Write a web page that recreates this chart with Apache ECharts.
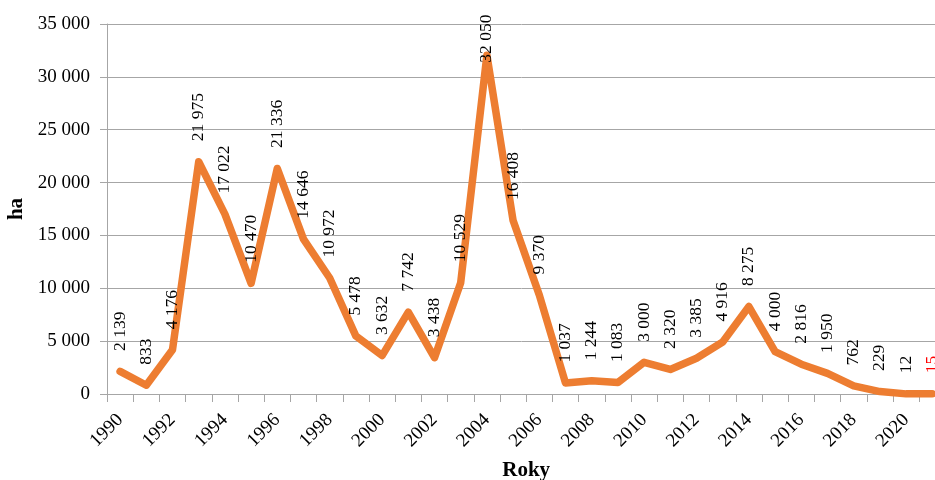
<!DOCTYPE html>
<html>
<head>
<meta charset="utf-8">
<script src="https://cdn.jsdelivr.net/npm/echarts@6/dist/echarts.min.js"></script>
<style>html,body{margin:0;padding:0;background:#fff}#c{width:935px;height:480px}</style>
</head>
<body>
<div id="c"></div>
<script>
var years = [1990,1991,1992,1993,1994,1995,1996,1997,1998,1999,2000,2001,2002,2003,2004,2005,2006,2007,2008,2009,2010,2011,2012,2013,2014,2015,2016,2017,2018,2019,2020,2021];
var areaHa = [2139,833,4176,21975,17022,10470,21336,14646,10972,5478,3632,7742,3438,10529,32050,16408,9370,1037,1244,1083,3000,2320,3385,4916,8275,4000,2816,1950,762,229,12,15];
var yTicks = [0,5000,10000,15000,20000,25000,30000,35000];

function fmt(v){ return String(v).replace(/\B(?=(\d{3})+(?!\d))/g, ' '); }

var FONT = 'Liberation Serif';
var GRAY = '#a6a6a6';

var seriesData = areaHa.map(function(v, i){
  var item = { value: v };
  if (i === 14) item.label = { distance: -8 };
  if (i === areaHa.length - 1) item.label = { color: '#FF0000' };
  return item;
});

var chart = echarts.init(document.getElementById('c'));
chart.setOption({
  animation: false,
  grid: { left: 107, top: 24, width: 838.4, height: 370, containLabel: false, outerBoundsMode: 'none' },
  xAxis: {
    type: 'category',
    data: years.map(String),
    boundaryGap: true,
    name: 'Roky',
    nameLocation: 'middle',
    nameGap: 66,
    nameTextStyle: { fontFamily: FONT, fontWeight: 'bold', fontSize: 21, color: '#000' },
    axisLine: { lineStyle: { color: GRAY, width: 1 } },
    axisTick: { show: true, interval: 0, length: 8, lineStyle: { color: GRAY } },
    axisLabel: { interval: 1, rotate: 45, margin: 23, fontFamily: FONT, fontSize: 19, color: '#000' },
    splitLine: { show: false }
  },
  yAxis: {
    type: 'value',
    min: 0, max: 35000, interval: 5000,
    name: 'ha',
    nameLocation: 'middle',
    nameRotate: 90,
    nameGap: 78,
    nameTextStyle: { fontFamily: FONT, fontWeight: 'bold', fontSize: 21, color: '#000' },
    axisLine: { show: true, lineStyle: { color: GRAY, width: 1 } },
    axisTick: { show: true, length: 7, lineStyle: { color: GRAY } },
    axisLabel: { margin: 17, fontFamily: FONT, fontSize: 19, color: '#000',
      formatter: function(v){ return yTicks.indexOf(v) >= 0 ? fmt(v) : ''; } },
    splitLine: { show: true, lineStyle: { color: GRAY, width: 1 } }
  },
  series: [{
    type: 'line',
    data: seriesData,
    smooth: false,
    symbol: 'circle',
    symbolSize: 1,
    showSymbol: true,
    showAllSymbol: true,
    itemStyle: { color: 'rgba(0,0,0,0)' },
    clip: false,
    lineStyle: { color: '#ED7D31', width: 7.5, cap: 'round', join: 'round' },
    label: {
      show: true,
      position: 'top',
      distance: 20,
      rotate: 90,
      align: 'left',
      verticalAlign: 'middle',
      fontFamily: FONT,
      fontSize: 17.5,
      color: '#000',
      formatter: function(p){ return fmt(p.value); }
    }
  }]
});
</script>
</body>
</html>
